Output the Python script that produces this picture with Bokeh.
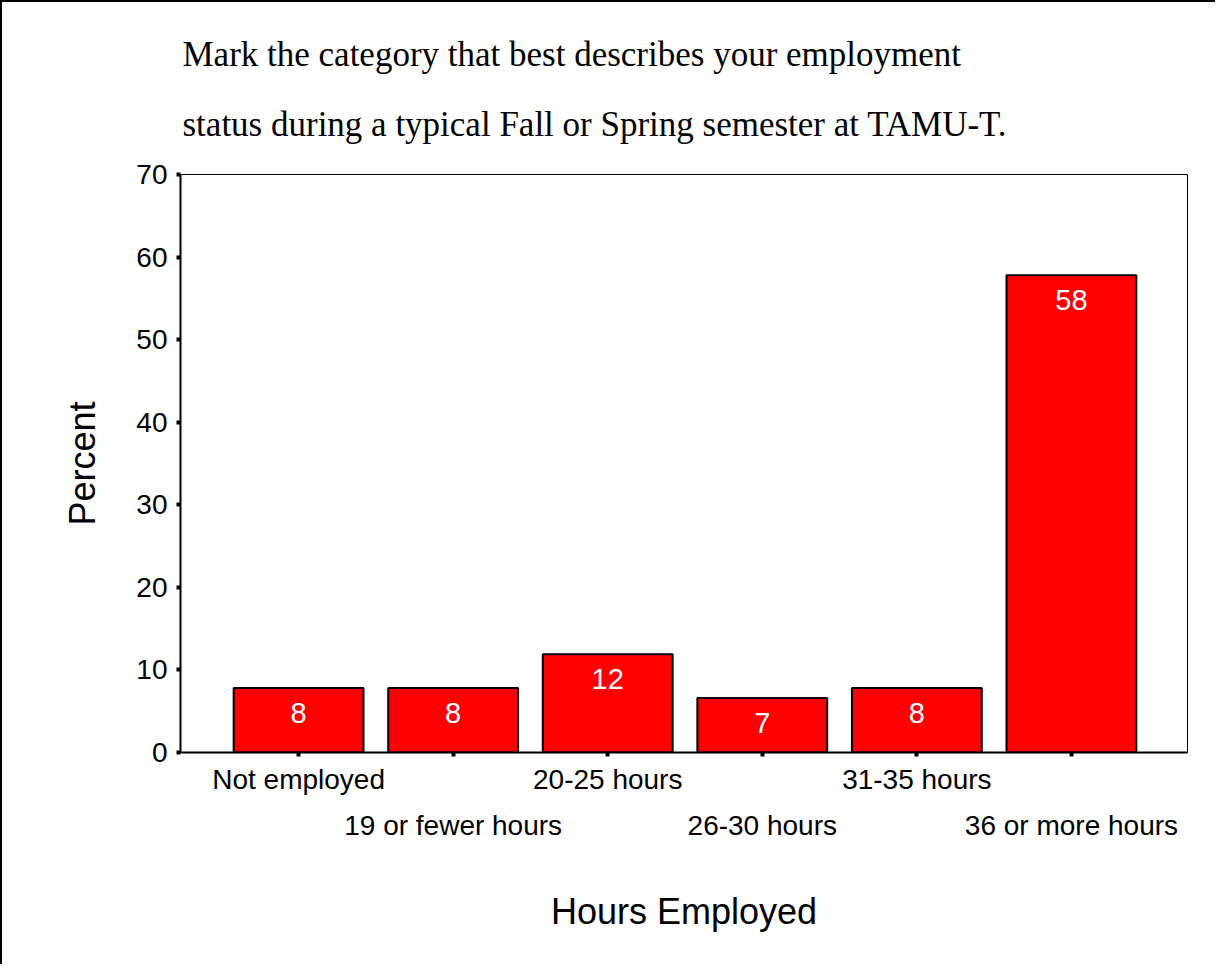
from bokeh.plotting import figure
from bokeh.models import Range1d, FixedTicker, LinearAxis, ColumnDataSource
from bokeh.embed import file_html
from bokeh.resources import INLINE
from bokeh.core.properties import value

categories = ["Not employed", "19 or fewer hours", "20-25 hours",
              "26-30 hours", "31-35 hours", "36 or more hours"]
percent = [7.8, 7.8, 11.9, 6.6, 7.8, 57.8]
bar_labels = ["8", "8", "12", "7", "8", "58"]
y_ticks = [0, 10, 20, 30, 40, 50, 60, 70]
title_lines = ["Mark the category that best describes your employment",
               "status during a typical Fall or Spring semester at TAMU-T."]
x_title = "Hours Employed"
y_title = "Percent"

xs = list(range(len(categories)))
src = ColumnDataSource(dict(x=xs, top=percent, label=bar_labels))

SANS = "Liberation Sans"
SERIF = "Liberation Serif"

p = figure(width=1215, height=964,
           x_range=Range1d(-0.764, 5.751), y_range=Range1d(0, 70),
           output_backend="svg", toolbar_location=None,
           min_border_left=178, min_border_right=30,
           min_border_top=172, min_border_bottom=214)
p.styles = {"border-left": "2px solid black", "border-top": "2px solid black"}

p.title.text = "\n".join(title_lines)
p.title.text_font = SERIF
p.title.text_font_size = "35px"
p.title.text_font_style = "normal"
p.title.text_color = "black"
p.title.text_line_height = 1.8
p.title.align = "left"
p.title.offset = 2
p.title.standoff = 61

p.grid.visible = False
p.outline_line_color = "black"
p.outline_line_width = 1
p.background_fill_color = "white"

p.vbar(x="x", top="top", bottom=0, width=0.84, source=src,
       fill_color="#ff0000", line_color="black", line_width=2)
p.text(x="x", y="top", text="label", source=src, text_color="white",
       text_font=value(SANS), text_font_size="29px", text_align="center",
       text_baseline="middle", y_offset=25)

# y axis
ya = p.yaxis[0]
ya.ticker = FixedTicker(ticks=y_ticks)
ya.axis_label = y_title
ya.axis_label_text_font = SANS
ya.axis_label_text_font_size = "36px"
ya.axis_label_text_font_style = "normal"
ya.axis_label_text_color = "black"
ya.axis_label_standoff = 30
ya.major_label_text_font = SANS
ya.major_label_text_font_size = "28px"
ya.major_label_text_color = "black"
ya.major_label_standoff = 9
ya.axis_line_width = 2
ya.axis_line_color = "black"
ya.major_tick_in = 0
ya.major_tick_out = 4
ya.major_tick_line_width = 4
ya.major_tick_line_color = "black"
ya.minor_tick_line_color = None

# x axis row 1
xa = p.xaxis[0]
xa.ticker = FixedTicker(ticks=xs)
xa.major_label_overrides = {i: (c if i % 2 == 0 else "") for i, c in enumerate(categories)}
xa.major_label_text_font = SANS
xa.major_label_text_font_size = "28px"
xa.major_label_text_color = "black"
xa.major_label_standoff = 7
xa.axis_line_width = 2
xa.axis_line_color = "black"
xa.major_tick_in = 0
xa.major_tick_out = 4
xa.major_tick_line_width = 4
xa.major_tick_line_color = "black"
xa.minor_tick_line_color = None

# x axis row 2 (staggered labels)
xa2 = LinearAxis(ticker=FixedTicker(ticks=[i for i in xs if i % 2 == 1]),
                 major_label_overrides={i: c for i, c in enumerate(categories) if i % 2 == 1},
                 major_label_text_font=SANS, major_label_text_font_size="28px",
                 major_label_text_color="black",
                 major_label_standoff=6,
                 axis_line_color=None, major_tick_line_color=None,
                 minor_tick_line_color=None,
                 axis_label=x_title, axis_label_text_font=SANS,
                 axis_label_text_font_size="36px",
                 axis_label_text_font_style="normal",
                 axis_label_text_color="black",
                 axis_label_standoff=47)
p.add_layout(xa2, "below")

open("out.html", "w").write(file_html(p, INLINE))
